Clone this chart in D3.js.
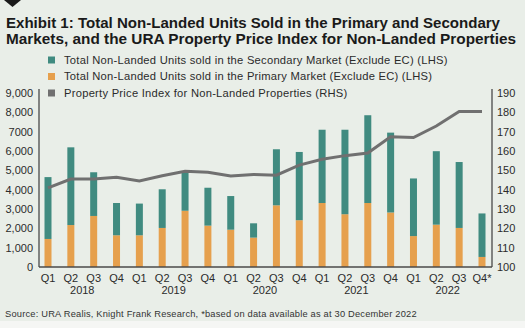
<!DOCTYPE html>
<html>
<head>
<meta charset="utf-8">
<script src="https://cdn.jsdelivr.net/npm/d3@7"></script>
<style>
  html, body { margin: 0; padding: 0; background: #f5f6f4; }
  svg { display: block; font-family: "Liberation Sans", Arial, sans-serif; }
</style>
</head>
<body>
<script>
// quarterly sales (units) and price index, 2018 Q1 - 2022 Q4
var quarters = ["Q1","Q2","Q3","Q4","Q1","Q2","Q3","Q4","Q1","Q2","Q3","Q4",
                "Q1","Q2","Q3","Q4","Q1","Q2","Q3","Q4*"];
var years = ["2018", "2019", "2020", "2021", "2022"];
var primary = [1450, 2170, 2640, 1640, 1640, 2020, 2910, 2140, 1930, 1520,
               3190, 2420, 3310, 2730, 3310, 2820, 1600, 2190, 2020, 520];
var secondary = [3200, 4020, 2260, 1670, 1640, 2000, 2040, 1960, 1740, 740,
                 2900, 3530, 3790, 4370, 4540, 4130, 2980, 3800, 3410, 2250];
var ppi = [140.9, 145.5, 145.5, 146.4, 144.5, 147.2, 149.5, 149.0, 147.1, 147.9,
           147.5, 152.7, 155.7, 157.6, 159.0, 167.4, 167.0, 172.9, 180.4, 180.4];
var leftTicks = ["0","1,000","2,000","3,000","4,000","5,000","6,000","7000","8,000","9,000"];
var rightTicks = [100, 110, 120, 130, 140, 150, 160, 170, 180, 190];
var legendLabels = [
  "Total Non-Landed Units sold in the Secondary Market (Exclude EC) (LHS)",
  "Total Non-Landed Units sold in the Primary Market (Exclude EC) (LHS)",
  "Property Price Index for Non-Landed Properties (RHS)"
];
var titleLines = [
  "Exhibit 1: Total Non-Landed Units Sold in the Primary and Secondary",
  "Markets, and the URA Property Price Index for Non-Landed Properties"
];
var source = "Source: URA Realis, Knight Frank Research, *based on data available as at 30 December 2022";

function drawChart() {

    var colSecondary = "#408b80",
        colPrimary = "#e6a04d",
        colLine = "#707070",
        colAxis = "#4a4a4a",
        colText = "#2b2b2b";

    var width = 525, height = 328;
    // plot box edges
    var pLeft = 39, pRight = 492, pTop = 93, pBottom = 267;

    var svg = d3.select("body").append("svg")
        .attr("width", width)
        .attr("height", height);

    // panel background
    svg.append("rect")
        .attr("width", width).attr("height", 321)
        .attr("fill", "#e9eee8");

    // little marker in the corner
    svg.append("path")
        .attr("d", "M4,0 L21,0 L12.5,7 Z")
        .attr("fill", "#1a1a1a");

    // title
    svg.append("g").selectAll("text")
        .data(titleLines)
        .enter().append("text")
        .attr("x", 6)
        .attr("y", function(d, i) { return 28 + i * 15.5; })
        .attr("font-size", 15)
        .attr("font-weight", "bold")
        .attr("fill", "#1a1a1a")
        .attr("textLength", function(d, i) { return i === 0 ? 494 : 510; })
        .attr("lengthAdjust", "spacingAndGlyphs")
        .text(function(d) { return d; });

    // scales
    var idx = d3.range(quarters.length);
    var x = d3.scalePoint().domain(idx).range([48, 482]);
    var yL = d3.scaleLinear().domain([0, 9000]).range([pBottom, pTop]);
    var yR = d3.scaleLinear().domain([100, 190]).range([pBottom, pTop]);
    var barW = 7;

    // stacked bars: primary at the base, secondary on top
    var rows = idx.map(function(i) { return { i: i, primary: primary[i], secondary: secondary[i] }; });
    var stack = d3.stack().keys(["primary", "secondary"])(rows);
    var colors = { primary: colPrimary, secondary: colSecondary };

    svg.append("g").selectAll("g")
        .data(stack)
        .enter().append("g")
        .attr("fill", function(d) { return colors[d.key]; })
        .selectAll("rect")
        .data(function(d) { return d; })
        .enter().append("rect")
        .attr("x", function(d) { return x(d.data.i) - barW / 2; })
        .attr("width", barW)
        .attr("y", function(d) { return yL(d[1]); })
        .attr("height", function(d) { return yL(d[0]) - yL(d[1]); });

    // price index line
    var line = d3.line()
        .x(function(d, i) { return x(i); })
        .y(function(d) { return yR(d); });

    svg.append("path")
        .datum(ppi)
        .attr("d", line)
        .attr("fill", "none")
        .attr("stroke", colLine)
        .attr("stroke-width", 3);

    // axis lines
    svg.append("line")
        .attr("x1", pLeft).attr("x2", pLeft).attr("y1", 89).attr("y2", pBottom)
        .attr("stroke", colAxis).attr("stroke-width", 1.3);
    svg.append("line")
        .attr("x1", pRight).attr("x2", pRight).attr("y1", 89).attr("y2", pBottom)
        .attr("stroke", colAxis).attr("stroke-width", 1.3);
    svg.append("line")
        .attr("x1", pLeft).attr("x2", pRight).attr("y1", pBottom).attr("y2", pBottom)
        .attr("stroke", colAxis).attr("stroke-width", 1.3);

    // left tick labels
    var axL = svg.append("g")
        .attr("transform", "translate(" + pLeft + ",0)")
        .call(d3.axisLeft(yL).tickValues(d3.range(0, 9001, 1000))
            .tickSize(0).tickPadding(6)
            .tickFormat(function(d, i) { return leftTicks[i]; }));
    axL.select(".domain").remove();
    axL.selectAll("text")
        .attr("font-size", 11)
        .attr("font-family", "'Liberation Sans', Arial, sans-serif")
        .attr("fill", colText);

    // right tick labels
    var axR = svg.append("g")
        .attr("transform", "translate(" + pRight + ",0)")
        .call(d3.axisRight(yR).tickValues(rightTicks)
            .tickSize(0).tickPadding(5));
    axR.select(".domain").remove();
    axR.selectAll("text")
        .attr("font-size", 11)
        .attr("font-family", "'Liberation Sans', Arial, sans-serif")
        .attr("fill", colText);

    // quarter labels
    svg.append("g").selectAll("text")
        .data(quarters)
        .enter().append("text")
        .attr("x", function(d, i) { return x(i); })
        .attr("y", 282)
        .attr("text-anchor", "middle")
        .attr("font-size", 11)
        .attr("fill", colText)
        .text(function(d) { return d; });

    // year labels, centred under each group of four quarters
    svg.append("g").selectAll("text")
        .data(years)
        .enter().append("text")
        .attr("x", function(d, i) { return (x(i * 4) + x(i * 4 + 3)) / 2; })
        .attr("y", 294)
        .attr("text-anchor", "middle")
        .attr("font-size", 11)
        .attr("fill", colText)
        .text(function(d) { return d; });

    // legend
    var legend = svg.append("g").selectAll("g")
        .data(legendLabels)
        .enter().append("g")
        .attr("transform", function(d, i) { return "translate(48," + (60 + i * 16.5) + ")"; });
    legend.append("rect")
        .attr("x", 0).attr("y", -3.5)
        .attr("width", 7).attr("height", 7)
        .attr("fill", function(d, i) { return [colSecondary, colPrimary, colLine][i]; });
    legend.append("text")
        .attr("x", 16).attr("y", 3.8)
        .attr("font-size", 11.2)
        .attr("letter-spacing", 0.25)
        .attr("fill", colText)
        .text(function(d) { return d; });

    // source note
    svg.append("text")
        .attr("x", 5).attr("y", 317)
        .attr("font-size", 9.3)
        .attr("letter-spacing", 0.2)
        .attr("fill", "#333")
        .text(source);
}

window.onload = drawChart;
</script>
</body>
</html>
